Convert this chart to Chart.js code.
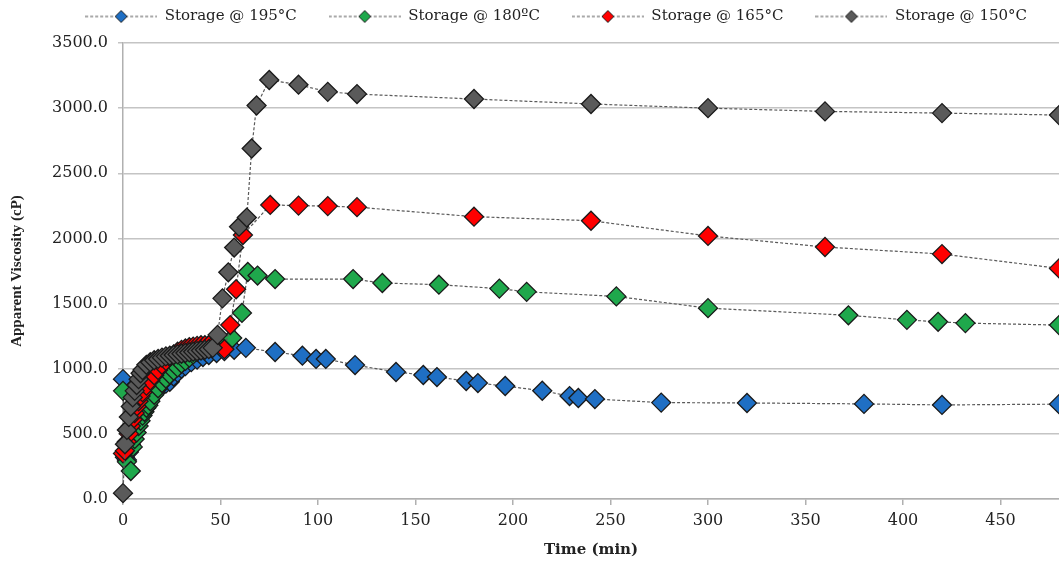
<!DOCTYPE html>
<html>
<head>
<meta charset="utf-8">
<script src="https://cdn.jsdelivr.net/npm/chart.js@4.4.0/dist/chart.umd.min.js"></script>
<style>
  html, body { margin: 0; padding: 0; background: #ffffff; }
  #wrap { width: 1059px; height: 562px; position: relative; }
</style>
</head>
<body>
<div id="wrap"><canvas id="c" width="1059" height="562"></canvas></div>
<script>
// ---- Data ----
const seriesNames = ['Storage @ 195°C', 'Storage @ 180ºC', 'Storage @ 165°C', 'Storage @ 150°C'];
const seriesColors = ['#1f6fc4', '#1fa84c', '#ff0000', '#5a5a5a'];

const t195 = [0,1,2,3,4,5,6,7,8,9,10,12,14,16,18,20,22,24,26,28,30,32,35,38,41,44,48,52,57,63,78,92,99,104,119,140,154,161,176,182,196,215,229,233.5,242,276,320,380,420,480];
const v195 = [920,320,300,360,420,470,520,560,600,630,660,720,770,810,840,865,885,900,940,970,1000,1020,1050,1070,1090,1105,1120,1135,1145,1160,1128,1100,1075,1075,1028,975,952,936,906,890,867,831,790,775,767,740,737,730,722,728];

const t180 = [0,2,4,5,6,7,8,9,10,11,12,13,14,16,18,20,22,24,26,28,30,32,34,36,38,40,42,44,47,52,56,61,64,69,78,118,133,162,193,207,253,300,372,402,418,432,480];
const v180 = [830,285,215,400,460,510,560,600,640,670,700,720,750,800,850,890,925,955,985,1010,1040,1060,1085,1110,1130,1150,1165,1180,1190,1175,1236,1428,1742,1715,1688,1688,1658,1645,1615,1590,1555,1465,1410,1375,1360,1350,1335];

const t165 = [0,1,2,3,4,5,6,7,8,9,10,12,14,16,18,20,22,24,26,28,30,32,34,36,38,40,42,44,46,52,55,58,61.5,75.5,90,105,120,180,240,300,360,420,480];
const v165 = [350,370,440,500,560,610,660,710,750,790,820,870,910,950,990,1030,1060,1090,1110,1130,1145,1155,1165,1170,1175,1180,1180,1180,1175,1150,1335,1610,2026,2257,2252,2248,2240,2167,2136,2019,1934,1880,1770];

const t150 = [0,1,2,3,4,5,6,7,8,9,10,12,14,16,18,20,22,24,26,28,30,32,34,36,38,40,42,44,46,48.5,51,54,57,59.5,63.5,66,68.5,75,90,105,120,180,240,300,360,420,480];
const v150 = [45,420,530,630,710,780,830,875,920,965,990,1030,1050,1065,1075,1085,1095,1100,1105,1110,1115,1120,1125,1130,1135,1140,1145,1150,1160,1260,1540,1740,1930,2090,2160,2690,3020,3216,3180,3125,3108,3070,3032,3000,2975,2962,2947];

const xTitle = 'Time (min)';
const yTitle = 'Apparent Viscosity (cP)';

// ---- Build ----
function pts(t, v) { return t.map((x, i) => ({ x: x, y: v[i] })); }
const allT = [t195, t180, t165, t150];
const allV = [v195, v180, v165, v150];

function legendIcon(color) {
  const c = document.createElement('canvas');
  c.width = 72; c.height = 16;
  const g = c.getContext('2d');
  g.strokeStyle = '#555';
  g.lineWidth = 1.2;
  g.setLineDash([3, 2]);
  g.beginPath(); g.moveTo(0, 8); g.lineTo(72, 8); g.stroke();
  g.setLineDash([]);
  g.beginPath();
  g.moveTo(36, 2); g.lineTo(42, 8); g.lineTo(36, 14); g.lineTo(30, 8); g.closePath();
  g.fillStyle = color; g.fill();
  g.strokeStyle = '#222'; g.lineWidth = 1; g.stroke();
  return c;
}

const datasets = seriesNames.map((name, i) => ({
  label: name,
  data: pts(allT[i], allV[i]),
  showLine: true,
  borderColor: '#5a5a5a',
  borderWidth: 1.2,
  borderDash: [3, 2],
  backgroundColor: seriesColors[i],
  pointStyle: 'rectRot',
  pointRadius: 9.5,
  pointHoverRadius: 9.5,
  pointBackgroundColor: seriesColors[i],
  pointBorderColor: '#1a1a1a',
  pointBorderWidth: 1.3,
  tension: 0,
  clip: false,
  order: 3 - i,
  legendIcon: legendIcon(seriesColors[i])
}));

const fixLayout = {
  id: 'fixLayout',
  afterInit(chart) {
    const lg = chart.legend;
    const orig = lg.fit;
    lg.fit = function () { orig.call(this); this.height = 66; };
  }
};

new Chart(document.getElementById('c'), {
  type: 'scatter',
  data: { datasets: datasets },
  plugins: [fixLayout],
  options: {
    responsive: false,
    animation: false,
    layout: { autoPadding: false, padding: { top: -23, left: 0, right: 0, bottom: 0 } },
    plugins: {
      tooltip: { enabled: false },
      legend: {
        position: 'top',
        align: 'end',
        labels: {
          usePointStyle: true,
          pointStyleWidth: 72,
          padding: 32,
          color: '#222',
          font: { family: 'DejaVu Serif', size: 15 },
          sort: (a, b) => a.datasetIndex - b.datasetIndex,
          generateLabels: (chart) => chart.data.datasets.map((ds, i) => ({
            text: ds.label,
            pointStyle: ds.legendIcon,
            fillStyle: ds.backgroundColor,
            strokeStyle: '#222',
            lineWidth: 0,
            hidden: false,
            datasetIndex: i,
            fontColor: '#222'
          }))
        }
      }
    },
    scales: {
      x: {
        type: 'linear',
        min: 0,
        max: 480,
        afterFit: (s) => { s.height = 63; },
        ticks: {
          stepSize: 50,
          includeBounds: false,
          padding: 6,
          color: '#222',
          font: { family: 'DejaVu Serif', size: 16 },
          maxRotation: 0
        },
        grid: { drawOnChartArea: false, drawTicks: true, tickLength: 6, color: '#b0b0b0', lineWidth: 1.5 },
        border: { color: '#b0b0b0', width: 1.5 },
        title: {
          display: true,
          text: xTitle,
          color: '#222',
          font: { family: 'DejaVu Serif', size: 15, weight: 'bold' },
          padding: { top: 0, bottom: 3 }
        }
      },
      y: {
        type: 'linear',
        min: 0,
        max: 3500,
        afterFit: (s) => { s.width = 123; },
        ticks: {
          stepSize: 500,
          padding: 10,
          color: '#222',
          font: { family: 'DejaVu Serif', size: 16 },
          callback: (v) => Number(v).toFixed(1)
        },
        grid: { drawOnChartArea: true, drawTicks: true, tickLength: 5, color: '#c4c4c4', lineWidth: 1.5 },
        border: { color: '#b0b0b0', width: 1.5 },
        title: {
          display: true,
          text: yTitle,
          color: '#222',
          font: { family: 'Liberation Serif', size: 15, weight: 'bold' },
          padding: { top: 8, bottom: 0 }
        }
      }
    }
  }
});
</script>
</body>
</html>
